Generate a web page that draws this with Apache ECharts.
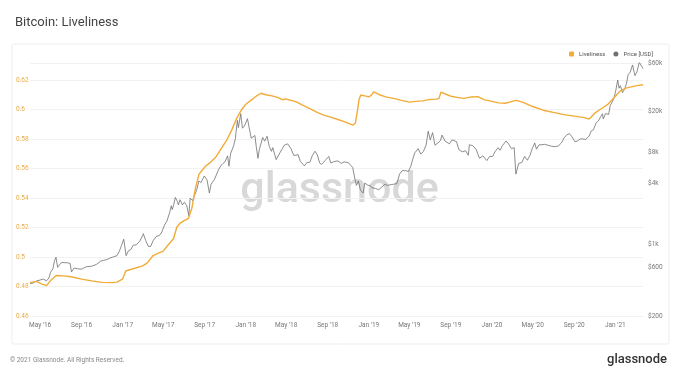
<!DOCTYPE html>
<html><head><meta charset="utf-8">
<script src="https://cdn.jsdelivr.net/npm/echarts@6/dist/echarts.min.js"></script>
<style>html,body{margin:0;padding:0;background:#fff}#c{width:679px;height:381px}</style>
</head><body><div id="c"></div>
<script>
const liveDates = ['2016-04-01','2016-04-20','2016-05-05','2016-05-20','2016-06-01','2016-06-18','2016-07-10','2016-08-01','2016-09-01','2016-10-01','2016-11-01','2016-12-01','2016-12-15','2017-01-01','2017-01-10','2017-02-01','2017-03-01','2017-03-15','2017-04-01','2017-04-15','2017-05-01','2017-05-15','2017-06-01','2017-06-10','2017-06-20','2017-07-01','2017-07-15','2017-07-25','2017-08-05','2017-08-15','2017-08-25','2017-09-05','2017-09-20','2017-10-05','2017-10-20','2017-11-05','2017-11-20','2017-12-05','2017-12-20','2018-01-01','2018-01-15','2018-02-01','2018-02-15','2018-03-01','2018-03-20','2018-04-05','2018-04-20','2018-05-01','2018-05-10','2018-05-20','2018-06-01','2018-06-20','2018-07-10','2018-08-01','2018-08-20','2018-09-10','2018-10-01','2018-10-20','2018-11-05','2018-11-15','2018-11-22','2018-11-28','2018-12-03','2018-12-08','2018-12-20','2019-01-01','2019-01-10','2019-01-15','2019-02-01','2019-02-20','2019-03-15','2019-04-05','2019-05-01','2019-05-20','2019-06-10','2019-07-01','2019-07-20','2019-07-28','2019-08-03','2019-08-15','2019-09-01','2019-09-20','2019-10-10','2019-11-01','2019-11-20','2019-12-10','2020-01-01','2020-01-20','2020-02-10','2020-03-01','2020-03-12','2020-04-01','2020-05-01','2020-06-01','2020-07-01','2020-08-01','2020-09-01','2020-10-01','2020-10-15','2020-10-22','2020-11-01','2020-11-20','2020-12-10','2021-01-01','2021-01-15','2021-02-01','2021-02-20','2021-03-10','2021-03-24'];
const liveValues = [0.4826,0.4835,0.4818,0.4806,0.4840,0.4875,0.4872,0.4866,0.4850,0.4838,0.4828,0.4826,0.4830,0.4852,0.4905,0.4920,0.4940,0.4960,0.5010,0.5025,0.5040,0.5080,0.5125,0.5200,0.5230,0.5245,0.5262,0.5330,0.5470,0.5560,0.5590,0.5618,0.5645,0.5680,0.5735,0.5790,0.5860,0.5940,0.6000,0.6035,0.6060,0.6090,0.6110,0.6100,0.6092,0.6082,0.6066,0.6072,0.6064,0.6060,0.6050,0.6028,0.6005,0.5980,0.5962,0.5948,0.5932,0.5918,0.5902,0.5895,0.5908,0.5990,0.6070,0.6098,0.6092,0.6085,0.6100,0.6120,0.6100,0.6085,0.6075,0.6063,0.6050,0.6055,0.6058,0.6068,0.6070,0.6075,0.6118,0.6105,0.6090,0.6082,0.6075,0.6085,0.6087,0.6065,0.6055,0.6045,0.6042,0.6055,0.6062,0.6050,0.6020,0.5995,0.5980,0.5965,0.5955,0.5945,0.5935,0.5950,0.5975,0.6005,0.6035,0.6090,0.6125,0.6145,0.6155,0.6163,0.6168];

const priceDates = ['2016-04-01','2016-04-10','2016-04-20','2016-05-01','2016-05-10','2016-05-20','2016-05-27','2016-06-01','2016-06-08','2016-06-13','2016-06-17','2016-06-22','2016-06-28','2016-07-05','2016-07-12','2016-07-20','2016-07-29','2016-08-02','2016-08-10','2016-08-20','2016-09-01','2016-09-15','2016-10-01','2016-10-15','2016-10-28','2016-11-05','2016-11-15','2016-11-25','2016-12-05','2016-12-15','2016-12-22','2016-12-28',
'2017-01-04','2017-01-11','2017-01-18','2017-01-25','2017-02-01','2017-02-10','2017-02-20','2017-03-01','2017-03-03','2017-03-10','2017-03-18','2017-03-25','2017-04-01','2017-04-10','2017-04-20','2017-04-27','2017-05-05','2017-05-12','2017-05-20','2017-05-25','2017-05-28','2017-06-01','2017-06-06','2017-06-12','2017-06-15','2017-06-20','2017-06-27','2017-07-03','2017-07-10','2017-07-16','2017-07-20','2017-07-27','2017-08-01','2017-08-08','2017-08-15','2017-08-21','2017-08-31','2017-09-02','2017-09-08','2017-09-15','2017-09-20','2017-09-30','2017-10-05','2017-10-12','2017-10-20','2017-10-31','2017-11-08','2017-11-12','2017-11-17','2017-11-26','2017-12-01','2017-12-07','2017-12-10','2017-12-17','2017-12-22','2017-12-28',
'2018-01-06','2018-01-10','2018-01-17','2018-01-22','2018-01-28','2018-02-01','2018-02-06','2018-02-10','2018-02-20','2018-02-26','2018-03-05','2018-03-12','2018-03-18','2018-03-22','2018-04-01','2018-04-06','2018-04-12','2018-04-20','2018-04-25','2018-05-05','2018-05-15','2018-05-23','2018-05-30','2018-06-05','2018-06-12','2018-06-24','2018-07-01','2018-07-10','2018-07-17','2018-07-25','2018-08-01','2018-08-08','2018-08-14','2018-08-25','2018-09-04','2018-09-10','2018-09-20','2018-10-01','2018-10-11','2018-10-20','2018-11-01','2018-11-14','2018-11-20','2018-11-25','2018-12-01','2018-12-07','2018-12-15','2018-12-20','2018-12-24','2018-12-30',
'2019-01-05','2019-01-10','2019-01-20','2019-01-30','2019-02-08','2019-02-18','2019-02-25','2019-03-05','2019-03-15','2019-03-25','2019-04-02','2019-04-10','2019-04-20','2019-04-28','2019-05-05','2019-05-12','2019-05-17','2019-05-27','2019-06-04','2019-06-12','2019-06-20','2019-06-26','2019-07-02','2019-07-09','2019-07-16','2019-07-25','2019-08-01','2019-08-06','2019-08-15','2019-08-28','2019-09-05','2019-09-18','2019-09-25','2019-10-05','2019-10-15','2019-10-23','2019-10-26','2019-11-05','2019-11-15','2019-11-25','2019-12-05','2019-12-17','2019-12-25',
'2020-01-03','2020-01-10','2020-01-19','2020-01-25','2020-02-01','2020-02-12','2020-02-20','2020-02-28','2020-03-07','2020-03-12','2020-03-16','2020-03-20','2020-03-30','2020-04-07','2020-04-15','2020-04-23','2020-04-30','2020-05-07','2020-05-12','2020-05-20','2020-05-28','2020-06-05','2020-06-15','2020-06-25','2020-07-05','2020-07-15','2020-07-25','2020-08-02','2020-08-10','2020-08-18','2020-08-25','2020-09-03','2020-09-10','2020-09-20','2020-09-25','2020-10-05','2020-10-15','2020-10-21','2020-10-28','2020-11-05','2020-11-12','2020-11-18','2020-11-24','2020-11-26','2020-12-03','2020-12-12','2020-12-17','2020-12-22','2020-12-27',
'2021-01-02','2021-01-08','2021-01-12','2021-01-16','2021-01-22','2021-01-28','2021-02-03','2021-02-08','2021-02-14','2021-02-21','2021-02-28','2021-03-06','2021-03-13','2021-03-17','2021-03-24'];
const priceValues = [416,420,440,450,460,442,470,536,580,700,750,600,640,670,665,665,655,540,590,580,575,607,615,640,690,700,715,740,760,780,860,975,
1130,780,870,895,985,995,1075,1220,1280,1100,960,960,1090,1200,1230,1330,1550,1700,2050,2400,2200,2450,2900,2650,2450,2750,2450,2600,2400,1920,2850,2700,2750,3400,4200,4050,4700,4900,4300,3200,3900,4350,4300,5400,6000,6450,7400,5850,7800,9300,10900,16500,14000,19100,13800,14500,
17100,14500,11000,10800,11700,9100,7000,8500,11200,10300,11500,9100,8200,8900,6800,6600,7900,8800,9400,9700,8700,7500,7500,7600,6500,5900,6350,6400,7400,8200,7600,6300,6100,6700,7300,6300,6500,6600,6250,6450,6350,5700,4500,3800,4200,3400,3200,4000,4000,3800,
3800,3600,3550,3450,3650,3900,3800,3850,3900,3950,4900,5300,5300,5200,5800,7000,7900,8700,7700,8200,9500,12900,10600,12500,9400,9900,10400,11800,10300,9700,10600,10200,8500,8100,8300,7500,9500,9300,8600,7000,7400,6650,7300,
7300,8100,8900,8400,9300,10350,9600,8700,8900,4900,5000,6200,6400,7300,6700,7500,8800,9900,8600,9500,9500,9600,9400,9200,9100,9200,9900,11100,11900,12200,11400,10200,10300,10900,10700,10700,11500,12900,13300,15600,16300,17800,19100,17000,19200,18800,23100,23500,26500,
32000,40800,34000,36000,30800,33000,37600,46200,48700,57400,45100,49000,61000,58800,52800];

const leftTicks = [0.46,0.48,0.5,0.52,0.54,0.56,0.58,0.6,0.62];
const rightTicks = [200,600,1000,4000,8000,20000,60000];
const xTickDates = ['2016-05-01','2016-09-01','2017-01-01','2017-05-01','2017-09-01','2018-01-01','2018-05-01','2018-09-01','2019-01-01','2019-05-01','2019-09-01','2020-01-01','2020-05-01','2020-09-01','2021-01-01'];

const ts = s => { const p = s.split('-').map(Number); return Date.UTC(p[0], p[1]-1, p[2]); };
const MON = ['Jan','Feb','Mar','Apr','May','Jun','Jul','Aug','Sep','Oct','Nov','Dec'];
const liveData = liveDates.map((d,i)=>[ts(d), liveValues[i]]);
const priceData = priceDates.map((d,i)=>[ts(d), priceValues[i]]);

const chart = echarts.init(document.getElementById('c'));
const FONT = 'Roboto';
chart.setOption({
  animation:false,
  backgroundColor:'#fff',
  textStyle:{fontFamily:FONT},
  title:{text:'Bitcoin: Liveliness', left:10, top:11, textStyle:{fontSize:13, fontWeight:'normal', color:'#444', fontFamily:FONT}},
  legend:{right:21, top:46, itemWidth:5, itemHeight:5, itemGap:8, textStyle:{fontSize:6, color:'#555'},
    data:[{name:'Liveliness', icon:'roundRect'},{name:'Price [USD]', icon:'circle'}]},
  grid:{left:30, right:36, top:63, bottom:65},
  xAxis:{type:'value', min:ts('2016-04-01'), max:ts('2021-03-24'),
    axisLine:{show:false}, axisTick:{show:false}, splitLine:{show:false},
    axisLabel:{customValues:xTickDates.map(ts), fontSize:6.5, color:'#777', margin:6,
      formatter:v=>{const d=new Date(v); return MON[d.getUTCMonth()]+" '"+String(d.getUTCFullYear()).slice(2);}}},
  yAxis:[
    {type:'value', min:0.46, max:0.6315, interval:0.02, position:'left',
      axisLine:{show:false}, axisTick:{show:false},
      splitLine:{lineStyle:{color:'#f2f2f2', width:1}},
      axisLabel:{showMaxLabel:false, align:'left', margin:14, fontSize:6.5, color:'#eaab48',
        formatter:v=>String(+v.toFixed(2))}},
    {type:'log', logBase:10, min:200, max:60000, position:'right',
      axisLine:{show:false}, axisTick:{show:false}, splitLine:{show:false},
      axisLabel:{customValues:rightTicks, fontSize:6.5, color:'#777', margin:5,
        formatter:v=>{v=Math.round(v); return v>=1000? '$'+(v/1000)+'k' : '$'+v;}}}
  ],
  graphic:[
    {type:'rect', shape:{x:12, y:44, width:657, height:300, r:2}, style:{fill:'none', stroke:'#ededed', lineWidth:1}, z:-10, silent:true},
    {type:'text', left:'center', top:170, style:{text:'glassnode', fontSize:43, fontWeight:500, fill:'#d8d8d8', fontFamily:FONT}, z:-5, silent:true},
    {type:'text', left:10, top:357, style:{text:'© 2021 Glassnode. All Rights Reserved.', fontSize:6.5, fill:'#888', fontFamily:FONT}},
    {type:'text', right:12, top:353, style:{text:'glassnode', fontSize:13, fontWeight:500, fill:'#333', fontFamily:FONT}}
  ],
  series:[
    {name:'Price [USD]', type:'line', yAxisIndex:1, data:priceData, showSymbol:false, symbol:'circle',
      lineStyle:{color:'#707070', width:0.8}, itemStyle:{color:'#707070'}},
    {name:'Liveliness', type:'line', yAxisIndex:0, data:liveData, showSymbol:false, symbol:'roundRect',
      lineStyle:{color:'#f2ab38', width:1.4}, itemStyle:{color:'#f2ab38'}}
  ]
});
</script></body></html>
